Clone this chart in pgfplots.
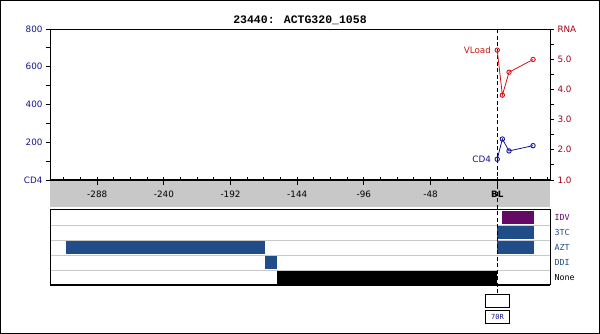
\documentclass[border=0pt]{standalone}
\usepackage{fontspec}
\setmainfont{DejaVu Sans}
\setmonofont{DejaVu Sans Mono}
\newfontfamily\titlefont{Liberation Mono}
\usepackage{pgfplots}
\pgfplotsset{compat=1.18}
\definecolor{navy}{RGB}{20,20,140}
\definecolor{dred}{RGB}{165,0,20}
\definecolor{vred}{RGB}{210,20,20}
\definecolor{cdblue}{RGB}{20,20,150}
\definecolor{barblue}{RGB}{32,76,136}
\definecolor{barpurple}{RGB}{100,10,100}
\definecolor{band}{RGB}{200,200,200}
\definecolor{sep}{RGB}{200,200,200}
\tikzset{lab/.style={font=\fontsize{8.8}{10}\selectfont}}
\pgfplotsset{
  base/.style={at={(50pt,154pt)}, anchor=south west, scale only axis, width=500pt, height=151pt, xmin=-322, xmax=38}
}
\begin{document}
\begin{tikzpicture}
\useasboundingbox (0pt,0pt) rectangle (600pt,334pt);
\draw[line width=1pt] (0.5pt,0.5pt) rectangle (599.5pt,333.5pt);
\node[font=\titlefont\bfseries\fontsize{11.5}{13}\selectfont] at (300pt,314pt) {23440: ACTG320\_1058};
\fill[band] (50pt,127pt) rectangle (550pt,154pt);

% treatment gantt
\begin{axis}[at={(50pt,49pt)}, anchor=south west, scale only axis, width=500pt, height=75pt,
  xmin=-322, xmax=38, ymin=0, ymax=5, xtick=\empty,
  ytick={1,2,3,4}, yticklabels={}, ymajorgrids, grid style={sep, line width=0.8pt},
  major tick length=0pt, ytick pos=right,
  extra y ticks={0.5,1.5,2.5,3.5,4.5},
  extra y tick labels={None,\textcolor{barblue}{DDI},\textcolor{barblue}{AZT},\textcolor{barblue}{3TC},\textcolor{barpurple}{IDV}},
  extra y tick style={grid=none},
  yticklabel style={font=\ttfamily\fontsize{8.3}{10}\selectfont, anchor=west, xshift=1pt},
  axis line style={line width=1pt}, clip=false]
\addplot[fill=barpurple, draw=none] coordinates {(3.5,4.06)(26.3,4.06)(26.3,4.94)(3.5,4.94)} -- cycle;
\addplot[fill=barblue, draw=none] coordinates {(0,3.04)(26.3,3.04)(26.3,3.96)(0,3.96)} -- cycle;
\addplot[fill=barblue, draw=none] coordinates {(0,2.04)(26.3,2.04)(26.3,2.96)(0,2.96)} -- cycle;
\addplot[fill=barblue, draw=none] coordinates {(-310.2,2.04)(-166.9,2.04)(-166.9,2.96)(-310.2,2.96)} -- cycle;
\addplot[fill=barblue, draw=none] coordinates {(-167.4,1.04)(-158.8,1.04)(-158.8,1.96)(-167.4,1.96)} -- cycle;
\addplot[fill=black, draw=none] coordinates {(-158.8,0)(0,0)(0,0.96)(-158.8,0.96)} -- cycle;
\addplot[black, line width=1.6pt] coordinates {(-322,0)(38,0)};
\end{axis}

% CD4 axis
\begin{axis}[base, ymin=0, ymax=800, xtick=\empty,
  ytick={0,200,400,600,800}, yticklabels={CD4,200,400,600,800},
  minor ytick={100,300,500,700}, ytick pos=left, tick align=outside,
  major tick length=4pt, minor tick length=4pt, tick style={black, line width=0.8pt},
  yticklabel style={lab, text=navy}, clip=false, axis line style={line width=0.8pt}]
\addplot[cdblue, line width=0.8pt, mark=o, mark size=2.2pt, mark options={line width=0.9pt}] coordinates {(0,110)(3.7,217)(8.5,154)(25.8,182)};
\node[anchor=east, text=cdblue, lab] at (axis cs:-2,110) {CD4};
\addplot[black, line width=0.9pt, dash pattern=on 4pt off 2.5pt] coordinates {(0,800)(0,-604)};
\end{axis}

% RNA axis
\begin{axis}[base, ymin=1, ymax=6, hide x axis, axis y line*=right,
  ytick={1,2,3,4,5,6}, yticklabels={1.0,2.0,3.0,4.0,5.0,RNA},
  minor ytick={1.5,2.5,3.5,4.5,5.5}, tick align=outside,
  major tick length=4pt, minor tick length=4pt, tick style={black, line width=0.8pt},
  yticklabel style={lab, text=dred}, clip=false, axis line style={line width=0.8pt}]
\addplot[vred, line width=0.8pt, mark=o, mark size=2.2pt, mark options={line width=0.9pt}] coordinates {(0,5.30)(3.7,3.81)(8.5,4.57)(25.8,4.99)};
\node[anchor=east, text=vred, lab] at (axis cs:-2,5.30) {VLoad};
\end{axis}

% x axis, major ticks
\begin{axis}[base, ymin=0, ymax=1, hide y axis, axis x line*=bottom,
  axis line style={line width=1.5pt},
  xtick={-288,-240,-192,-144,-96,-48,0},
  xticklabels={-288,-240,-192,-144,-96,-48,\textbf{BL}},
  tick align=outside, major tick length=5pt, tick style={black, line width=1pt},
  xticklabel style={lab, yshift=-2.5pt}]
\end{axis}
% x axis, minor ticks
\begin{axis}[base, ymin=0, ymax=1, hide y axis, axis x line*=bottom,
  axis line style={line width=1.5pt},
  xtick={-312,-300,...,36}, xticklabels={},
  tick align=inside, major tick length=3pt, tick style={black, line width=0.8pt}]
\end{axis}

% markers under the baseline
\draw[line width=0.8pt] (485.5pt,27pt) rectangle (509.5pt,40pt);
\draw[line width=0.8pt] (485.5pt,11pt) rectangle (509.5pt,24pt);
\node[font=\ttfamily\fontsize{7}{8}\selectfont, text=navy] at (497.5pt,17.5pt) {70R};
\end{tikzpicture}
\end{document}
